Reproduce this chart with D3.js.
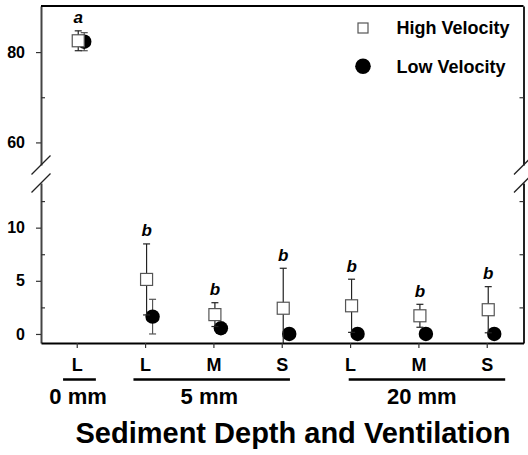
<!DOCTYPE html>
<html>
<head>
<meta charset="utf-8">
<script src="https://cdn.jsdelivr.net/npm/d3@7"></script>
<style>
  html, body { margin: 0; padding: 0; background: #fff; }
  svg { display: block; font-family: "Liberation Sans", Arial, Helvetica, sans-serif; }
</style>
</head>
<body>
<svg id="chart" width="528" height="455"></svg>
<script>
// ---------- data ----------
const categories = ["L", "L", "M", "S", "L", "M", "S"];
const highMean = [82.5, 5.13, 1.82, 2.42, 2.65, 1.71, 2.28];
const highSD   = [2.2, 3.34, 1.12, 3.76, 2.5, 1.08, 2.17];
const lowMean  = [82.3, 1.63, 0.54, 0, 0, 0, 0];
const lowSD    = [2.0, 1.63, 0.3, 0, 0, 0, 0];
const letters  = ["a", "b", "b", "b", "b", "b", "b"];
const groupLabels = ["0 mm", "5 mm", "20 mm"];
const groupSpans  = [[-0.2, 0.28], [0.83, 3.12], [3.98, 6.27]];
const groupLabelPos = [0.02, 1.94, 5.05];
const topTicks = [60, 80], topMinor = [70];
const botTicks = [0, 5, 10], botMinor = [2.5, 7.5, 12.5];
const seriesNames = ["High Velocity", "Low Velocity"];
const xTitle = "Sediment Depth and Ventilation";

// ---------- scales ----------
const svg = d3.select("#chart");
const L = 41, R = 523.5;
const x = d3.scaleLinear().domain([-0.523, 6.538]).range([L, R]);
const yTop = d3.scaleLinear().domain([55, 90.2]).range([165, 6]);
const yBot = d3.scaleLinear().domain([-0.85, 14.2]).range([343, 183]);
const yOf = v => v >= 55 ? yTop(v) : yBot(Math.max(v, yBot.domain()[0]));
const cap = v => v >= 55 ? v : Math.max(v, yBot.domain()[0]);

const font = 'font-weight:bold';

// ---------- axes ----------
function styleAxis(g, color, width) {
  g.select(".domain").attr("stroke", color).attr("stroke-width", width);
  g.selectAll(".tick line").attr("stroke", "#333").attr("stroke-width", 1.2);
  g.selectAll(".tick text").attr("fill", "#000").attr("font-size", 16).attr("font-weight", "bold")
    .attr("font-family", '"Liberation Sans", Arial, sans-serif');
}
// left
[[yTop, topTicks, topMinor], [yBot, botTicks, botMinor]].forEach(([s, maj, mnr]) => {
  const g = svg.append("g").attr("transform", `translate(${L},0)`)
    .call(d3.axisLeft(s).tickValues(maj).tickSize(5).tickSizeOuter(0).tickPadding(11));
  styleAxis(g, "#444", 2);
  const gm = svg.append("g").attr("transform", `translate(${L},0)`)
    .call(d3.axisRight(s).tickValues(mnr).tickSize(4).tickFormat(""));
  gm.select(".domain").remove();
  gm.selectAll(".tick line").attr("stroke", "#333").attr("stroke-width", 1.2);
  // right
  const gr = svg.append("g").attr("transform", `translate(${R},0)`)
    .call(d3.axisLeft(s).tickValues(mnr).tickSize(4).tickSizeOuter(0).tickFormat(""));
  styleAxis(gr, "#222", 2);
});
// top border
svg.append("line").attr("x1", L).attr("x2", R).attr("y1", yTop(90.2)).attr("y2", yTop(90.2))
  .attr("stroke", "#000").attr("stroke-width", 2);
// bottom axis
const gx = svg.append("g").attr("transform", `translate(0,${yBot(yBot.domain()[0])})`)
  .call(d3.axisBottom(x).tickValues(d3.range(categories.length)).tickSize(5).tickSizeOuter(0)
    .tickPadding(10).tickFormat(i => categories[i]));
styleAxis(gx, "#000", 2);
gx.selectAll(".tick text").attr("font-size", 18);

// break marks
const breakY = [yTop(55), yBot(yBot.domain()[1])];
[L, R].forEach(px => breakY.forEach(py => {
  svg.append("line").attr("x1", px - 9.5).attr("y1", py + 9.5).attr("x2", px + 9.5).attr("y2", py - 9.5)
    .attr("stroke", "#222").attr("stroke-width", 1.3);
}));

// groups
groupSpans.forEach((sp, i) => {
  svg.append("line").attr("x1", x(sp[0])).attr("x2", x(sp[1])).attr("y1", 379.5).attr("y2", 379.5)
    .attr("stroke", "#000").attr("stroke-width", 2.4);
  svg.append("text").attr("x", x(groupLabelPos[i])).attr("y", 404).attr("text-anchor", "middle")
    .attr("font-size", 22).attr("font-weight", "bold").text(groupLabels[i]);
});
svg.append("text").attr("x", 293).attr("y", 443).attr("text-anchor", "middle")
  .attr("font-size", 29).attr("font-weight", "bold").text(xTitle);

// ---------- marks ----------
const hiOff = 1.5, loOff = 7.5;
function errBar(i, mean, sd, off, color) {
  const cx = x(i) + off;
  const hi = cap(mean + sd), lo = cap(mean - sd);
  const g = svg.append("g").attr("stroke", color).attr("stroke-width", 1.2);
  g.append("line").attr("x1", cx).attr("x2", cx).attr("y1", yOf(hi)).attr("y2", yOf(lo));
  if (sd > 0) {
    if (mean + sd <= 90.2) g.append("line").attr("x1", cx - 3.5).attr("x2", cx + 3.5).attr("y1", yOf(hi)).attr("y2", yOf(hi));
    if (mean - sd >= yBot.domain()[0]) g.append("line").attr("x1", cx - 3.5).attr("x2", cx + 3.5).attr("y1", yOf(lo)).attr("y2", yOf(lo));
  }
}
categories.forEach((c, i) => errBar(i, lowMean[i], lowSD[i], loOff, "#555"));
svg.selectAll("circle.low").data(lowMean).join("circle").attr("class", "low")
  .attr("cx", (d, i) => x(i) + loOff).attr("cy", d => yOf(d)).attr("r", 7.2).attr("fill", "#000");
categories.forEach((c, i) => errBar(i, highMean[i], highSD[i], hiOff, "#222"));
svg.selectAll("rect.high").data(highMean).join("rect").attr("class", "high")
  .attr("x", (d, i) => x(i) + hiOff - 6).attr("y", d => yOf(d) - 6).attr("width", 12).attr("height", 12)
  .attr("fill", "#fff").attr("stroke", "#555").attr("stroke-width", 1.2);

// letters
letters.forEach((t, i) => {
  const top = Math.min(yOf(cap(highMean[i] + highSD[i])), yOf(cap(lowMean[i] + lowSD[i])));
  svg.append("text").attr("x", x(i) + hiOff).attr("y", top - 7.5).attr("text-anchor", "middle")
    .attr("font-size", 17).attr("font-weight", "bold").attr("font-style", "italic").text(t);
});

// ---------- legend ----------
const lg = svg.append("g");
lg.append("rect").attr("x", 358).attr("y", 23).attr("width", 10).attr("height", 10)
  .attr("fill", "#fff").attr("stroke", "#555").attr("stroke-width", 1.2);
lg.append("circle").attr("cx", 363).attr("cy", 66.2).attr("r", 7.8).attr("fill", "#000");
seriesNames.forEach((n, i) => {
  lg.append("text").attr("x", 396.5).attr("y", i === 0 ? 34.3 : 72.7)
    .attr("font-size", 18).attr("font-weight", "bold").text(n);
});
</script>
</body>
</html>
